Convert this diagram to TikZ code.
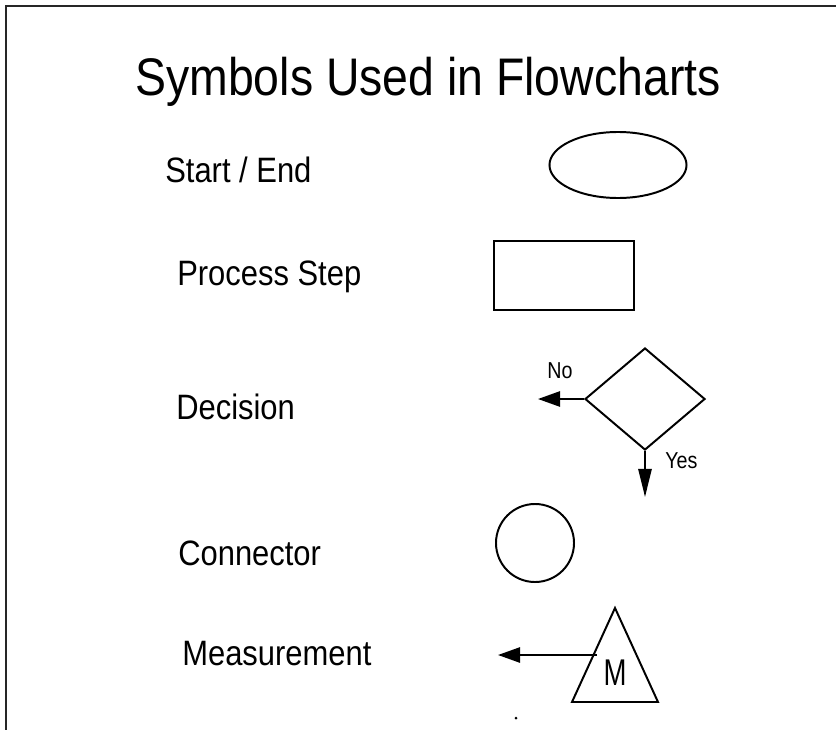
\documentclass[tikz,border=0pt]{standalone}
\usepackage{fontspec}
\setmainfont{Liberation Sans}
\usetikzlibrary{shapes.geometric,arrows.meta}

\tikzset{
  symbol/.style={draw, line width=1.4pt, inner sep=0pt},
  label text/.style={anchor=base west, inner sep=0pt, font=\fontsize{22}{26}\selectfont},
  branch text/.style={anchor=base west, inner sep=0pt, font=\fontsize{14}{17}\selectfont},
  flow arrow/.style={line width=1.4pt, -{Triangle[length=0.55cm,width=0.38cm]}},
}
\newcommand{\tallText}[2][1.14]{\scalebox{1}[#1]{#2}}

\begin{document}
\begin{tikzpicture}[x=0.025cm, y=-0.025cm]
  \useasboundingbox (0,0) rectangle (836,730);

  % page frame (open at right and bottom)
  \draw[line width=1.4pt, black!85] (6,730) -- (6,6) -- (836,6);

  % title
  \node[anchor=base, inner sep=0pt, font=\fontsize{33}{40}\selectfont] (title)
    at (428,95) {\tallText{Symbols Used in Flowcharts}};

  % ---- labels ----
  \node[label text] (lbl start)   at (165,182) {\tallText{Start / End}};
  \node[label text] (lbl process) at (177,285) {\tallText{Process Step}};
  \node[label text] (lbl decide)  at (176,419) {\tallText{Decision}};
  \node[label text] (lbl connect) at (178,565) {\tallText{Connector}};
  \node[label text] (lbl measure) at (182,665) {\tallText{Measurement}};

  % ---- symbols ----
  \node[symbol, ellipse, minimum width=3.425cm, minimum height=1.65cm] (start sym) at (618,165) {};
  \node[symbol, rectangle, minimum width=3.5cm, minimum height=1.725cm] (process sym) at (564,275.5) {};
  \node[symbol, diamond, minimum width=3cm, minimum height=2.55cm] (decide sym) at (645,399) {};
  \node[symbol, circle, minimum size=1.95cm] (connect sym) at (535,543) {};

  % decision branches
  \coordinate (no end)  at (538,399);
  \coordinate (yes end) at (645,497);
  \draw[flow arrow] (decide sym.west) -- (no end);
  \draw[line width=1.4pt, -{Triangle[length=0.7cm,width=0.33cm]}] (decide sym.south) -- (yes end);
  \node[branch text] (no lbl)  at (547,378) {\tallText[1.17]{No}};
  \node[branch text] (yes lbl) at (665,468) {\tallText[1.17]{Yes}};

  % measurement triangle
  \coordinate (meas top)   at (615,608);
  \coordinate (meas left)  at (572,702);
  \coordinate (meas right) at (658,702);
  \draw[line width=1.4pt, line join=miter] (meas top) -- (meas left) -- (meas right) -- cycle;
  \node[anchor=base, inner sep=0pt, font=\fontsize{19.6}{23}\selectfont] (meas m)
    at (615,685) {\tallText[1.35]{M}};
  \coordinate (meas tap) at (597,655);
  \coordinate (meas end) at (498,655);
  \draw[flow arrow] (meas tap) -- (meas end);

  % stray dot
  \fill (516,718) circle (1.5);
\end{tikzpicture}
\end{document}
